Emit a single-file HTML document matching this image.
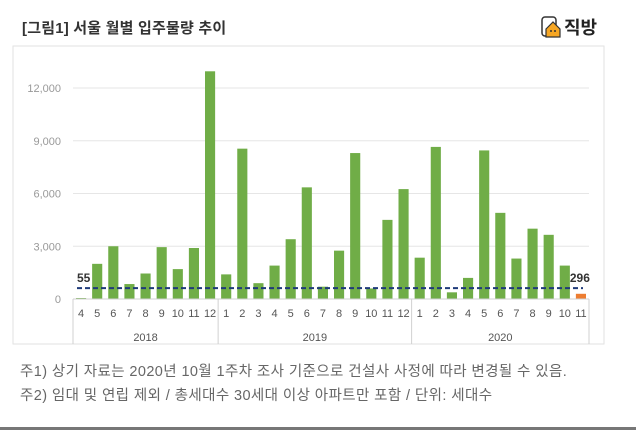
<!DOCTYPE html>
<html><head><meta charset="utf-8"><style>
body{margin:0;width:636px;height:432px;background:#fff;overflow:hidden;font-family:"Liberation Sans","Noto Sans CJK KR",sans-serif;}
#title{position:absolute;left:22px;top:17px;font-size:15px;font-weight:bold;color:#333;letter-spacing:0.2px}
#logo{position:absolute;left:540px;top:14px;font-size:18px;font-weight:bold;color:#222;display:flex;align-items:center;gap:2px}
.note{position:absolute;left:20px;font-size:14.5px;color:#666;letter-spacing:0.4px}
#bottomline{position:absolute;left:0;top:427px;width:636px;height:3px;background:#777}
</style></head><body>
<div id="title">[그림1] 서울 월별 입주물량 추이</div>
<div id="logo"><svg width="22" height="22" viewBox="0 0 22 22"><rect x="2" y="1" width="14" height="19" rx="3" fill="#fff" stroke="#333" stroke-width="1.5"/><path d="M6 13 L13 6 L20 13 L20 21 L6 21Z" fill="#f6a623" stroke="#333" stroke-width="1.2"/><circle cx="11" cy="15" r="1" fill="#333"/><circle cx="15" cy="15" r="1" fill="#333"/></svg><span>직방</span></div>
<svg id="chart" width="636" height="432" style="position:absolute;left:0;top:0"></svg>
<div class="note" style="top:360px">주1) 상기 자료는 2020년 10월 1주차 조사 기준으로 건설사 사정에 따라 변경될 수 있음.</div>
<div class="note" style="top:384px">주2) 임대 및 연립 제외 / 총세대수 30세대 이상 아파트만 포함 / 단위: 세대수</div>
<div id="bottomline"></div>
<script>
const months=["4","5","6","7","8","9","10","11","12","1","2","3","4","5","6","7","8","9","10","11","12","1","2","3","4","5","6","7","8","9","10","11"];
const years=["2018","2019","2020"];
const yearCounts=[9,12,11];
const values=[55,2000,3000,850,1450,2950,1700,2900,12950,1400,8550,900,1900,3400,6350,700,2750,8300,600,4500,6250,2350,8650,380,1200,8450,4900,2300,4000,3650,1900,296];
const yTicks=[0,3000,6000,9000,12000];
const avgValue=620;
const NS="http://www.w3.org/2000/svg";
const svg=document.getElementById('chart');
const x0=73,x1=589,y0=299,yTop=88,yMax=12000;
const bw=(x1-x0)/values.length;
const yS=v=>y0-(v/yMax)*(y0-yTop);
const xS=i=>x0+i*bw;
function mk(t,a){const e=document.createElementNS(NS,t);for(const k in a)e.setAttribute(k,a[k]);svg.appendChild(e);return e;}
let e=mk('rect',{x:13,y:46,width:591,height:298,fill:'none',stroke:'#e2e2e2'});

yTicks.forEach(t=>{
 if(t>0){let g=mk('line',{x1:x0,x2:x1,y1:yS(t),y2:yS(t),stroke:'#e6e6e6'});
 }
 let l=mk('text',{x:x0-12,y:yS(t)+4,'text-anchor':'end','font-size':11,fill:'#999'});
 l.textContent=t.toLocaleString('en-US');
 
});
values.forEach((v,i)=>{
 let r=mk('rect',{x:xS(i)+3,y:yS(v),width:bw-6,height:y0-yS(v),fill:i==values.length-1?'#ed7d31':'#70ad47'});
 
 let m=mk('text',{x:xS(i)+bw/2,y:317,'text-anchor':'middle','font-size':11,fill:'#555'});
 m.textContent=months[i];
 
});
let ax=mk('line',{x1:x0,x2:x1,y1:y0,y2:y0,stroke:'#d0d0d0'});

[0].concat(yearCounts).reduce((a,c,idx)=>{const s=a+c;
 let ln=mk('line',{x1:xS(s),x2:xS(s),y1:y0,y2:344,stroke:'#d0d0d0'});
 
 if(idx<years.length){let yt=mk('text',{x:xS(s+yearCounts[idx]/2),y:341,'text-anchor':'middle','font-size':11,fill:'#555'});
 yt.textContent=years[idx];}
 return s;},0);
let av=mk('line',{x1:xS(0)+4,x2:xS(values.length)-6,y1:yS(avgValue),y2:yS(avgValue),stroke:'#1f3a7a','stroke-width':2,'stroke-dasharray':'5,3'});

let l1=mk('text',{x:xS(0)+4,y:yS(avgValue)-6,'font-size':12,'font-weight':'bold',fill:'#333'});
l1.textContent=String(values[0]);
let l2=mk('text',{x:xS(values.length-1)-3,y:yS(avgValue)-6,'font-size':12,'font-weight':'bold',fill:'#333'});
l2.textContent=String(values[values.length-1]);
</script>
</body></html>
